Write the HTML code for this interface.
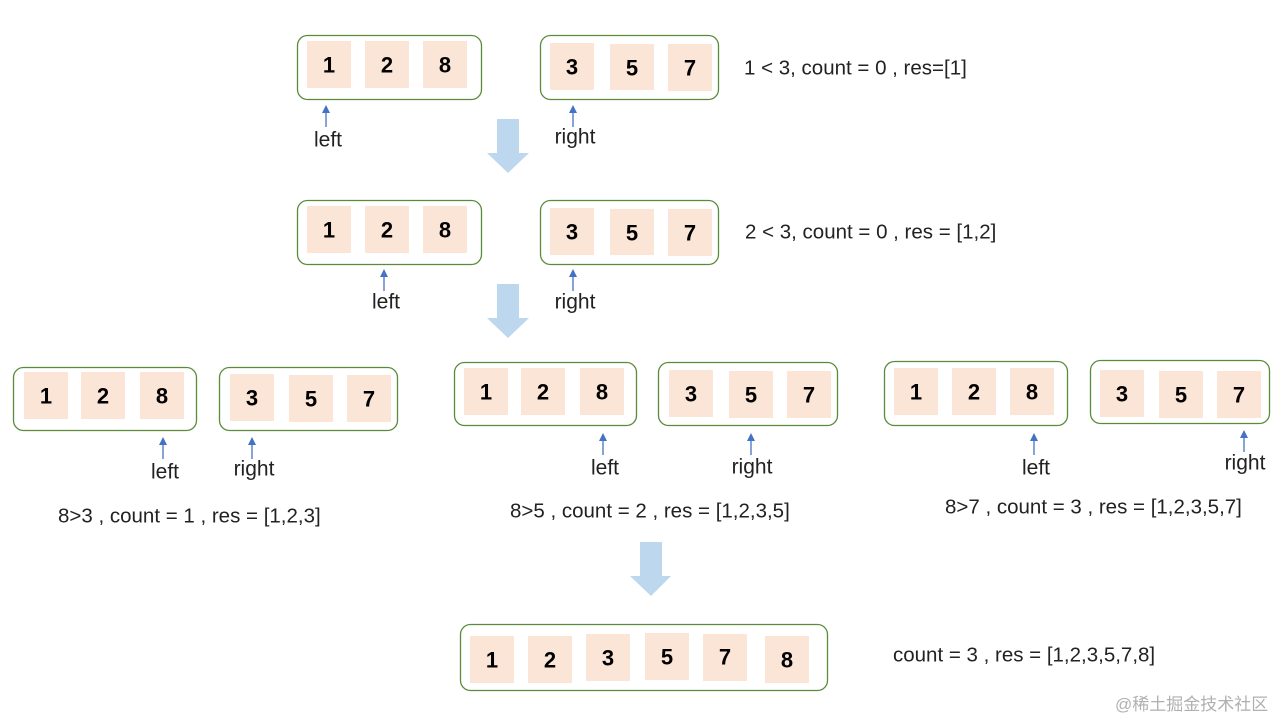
<!DOCTYPE html>
<html><head><meta charset="utf-8"><style>
html,body{margin:0;padding:0;background:#fff;width:1280px;height:720px;overflow:hidden}
svg text{font-family:"Liberation Sans",sans-serif}
.b{fill:#fff;stroke:#5a8a3a;stroke-width:1.3}
.c{fill:#fbe5d6}
.n{font-size:22px;font-weight:bold;fill:#000;text-anchor:middle;dominant-baseline:central}
.l{font-size:21px;fill:#222;text-anchor:middle;dominant-baseline:central}
.t{font-size:20.5px;fill:#222;dominant-baseline:central}
.a{stroke:#4472c4;stroke-width:1.3}
.ah{fill:#4472c4}
.big{fill:#bdd7ee}
</style></head><body>
<svg width="1280" height="720" viewBox="0 0 1280 720" xmlns="http://www.w3.org/2000/svg">
<!-- Row 1 -->
<rect class="b" x="297.5" y="35.5" width="184" height="64" rx="10"/>
<rect class="c" x="307" y="41" width="44" height="47"/><text class="n" x="329" y="65">1</text>
<rect class="c" x="365" y="41" width="44" height="47"/><text class="n" x="387" y="65">2</text>
<rect class="c" x="423" y="41" width="44" height="47"/><text class="n" x="445" y="65">8</text>
<rect class="b" x="540.5" y="35.5" width="178" height="64" rx="10"/>
<rect class="c" x="550" y="43" width="44" height="47"/><text class="n" x="572" y="67">3</text>
<rect class="c" x="610" y="44" width="44" height="46"/><text class="n" x="632" y="68">5</text>
<rect class="c" x="668" y="44" width="44" height="47"/><text class="n" x="690" y="68">7</text>
<text class="t" x="744" y="68">1 &lt; 3, count = 0 , res=[1]</text>
<line class="a" x1="326" y1="112" x2="326" y2="127"/><polygon class="ah" points="322,113 330,113 326,105"/>
<text class="l" x="328" y="140">left</text>
<line class="a" x1="573" y1="112" x2="573" y2="127"/><polygon class="ah" points="569,113 577,113 573,105"/>
<text class="l" x="575" y="137">right</text>
<polygon class="big" points="497,119 519,119 519,153 529,153 508,173 487,153 497,153"/>
<!-- Row 2 -->
<rect class="b" x="297.5" y="200.5" width="184" height="64" rx="10"/>
<rect class="c" x="307" y="206" width="44" height="47"/><text class="n" x="329" y="230">1</text>
<rect class="c" x="365" y="206" width="44" height="47"/><text class="n" x="387" y="230">2</text>
<rect class="c" x="423" y="206" width="44" height="47"/><text class="n" x="445" y="230">8</text>
<rect class="b" x="540.5" y="200.5" width="178" height="64" rx="10"/>
<rect class="c" x="550" y="208" width="44" height="47"/><text class="n" x="572" y="232">3</text>
<rect class="c" x="610" y="209" width="44" height="46"/><text class="n" x="632" y="233">5</text>
<rect class="c" x="668" y="209" width="44" height="47"/><text class="n" x="690" y="233">7</text>
<text class="t" x="745" y="232">2 &lt; 3, count = 0 , res = [1,2]</text>
<line class="a" x1="384" y1="276" x2="384" y2="291"/><polygon class="ah" points="380,277 388,277 384,269"/>
<text class="l" x="386" y="302">left</text>
<line class="a" x1="573" y1="276" x2="573" y2="291"/><polygon class="ah" points="569,277 577,277 573,269"/>
<text class="l" x="575" y="302">right</text>
<polygon class="big" points="497,284 519,284 519,318 529,318 508,338 487,318 497,318"/>
<!-- Row 3 group 1 -->
<rect class="b" x="13.5" y="367.5" width="183" height="63" rx="10"/>
<rect class="c" x="24" y="372" width="44" height="47"/><text class="n" x="46" y="396">1</text>
<rect class="c" x="81" y="372" width="44" height="47"/><text class="n" x="103" y="396">2</text>
<rect class="c" x="140" y="372" width="44" height="47"/><text class="n" x="162" y="396">8</text>
<rect class="b" x="219.5" y="367.5" width="178" height="63" rx="10"/>
<rect class="c" x="230" y="374" width="44" height="47"/><text class="n" x="252" y="398">3</text>
<rect class="c" x="289" y="375" width="44" height="47"/><text class="n" x="311" y="399">5</text>
<rect class="c" x="347" y="375" width="44" height="47"/><text class="n" x="369" y="399">7</text>
<line class="a" x1="163" y1="444" x2="163" y2="459"/><polygon class="ah" points="159,445 167,445 163,437"/>
<text class="l" x="165" y="472">left</text>
<line class="a" x1="252" y1="444" x2="252" y2="459"/><polygon class="ah" points="248,445 256,445 252,437"/>
<text class="l" x="254" y="469">right</text>
<text class="t" x="58" y="516">8&gt;3 , count = 1 , res = [1,2,3]</text>
<!-- group 2 -->
<rect class="b" x="454.5" y="362.5" width="182" height="63" rx="10"/>
<rect class="c" x="464" y="368" width="44" height="47"/><text class="n" x="486" y="392">1</text>
<rect class="c" x="521" y="368" width="44" height="47"/><text class="n" x="543" y="392">2</text>
<rect class="c" x="580" y="368" width="44" height="47"/><text class="n" x="602" y="392">8</text>
<rect class="b" x="658.5" y="362.5" width="179" height="63" rx="10"/>
<rect class="c" x="669" y="370" width="44" height="47"/><text class="n" x="691" y="394">3</text>
<rect class="c" x="729" y="371" width="44" height="47"/><text class="n" x="751" y="395">5</text>
<rect class="c" x="787" y="371" width="44" height="47"/><text class="n" x="809" y="395">7</text>
<line class="a" x1="603" y1="440" x2="603" y2="455"/><polygon class="ah" points="599,441 607,441 603,433"/>
<text class="l" x="605" y="468">left</text>
<line class="a" x1="751" y1="440" x2="751" y2="455"/><polygon class="ah" points="747,441 755,441 751,433"/>
<text class="l" x="752" y="467">right</text>
<text class="t" x="510" y="511">8&gt;5 , count = 2 , res = [1,2,3,5]</text>
<!-- group 3 -->
<rect class="b" x="884.5" y="361.5" width="183" height="64" rx="10"/>
<rect class="c" x="894" y="368" width="44" height="47"/><text class="n" x="916" y="392">1</text>
<rect class="c" x="952" y="368" width="44" height="47"/><text class="n" x="974" y="392">2</text>
<rect class="c" x="1010" y="368" width="44" height="47"/><text class="n" x="1032" y="392">8</text>
<rect class="b" x="1090.5" y="360.5" width="179" height="63" rx="10"/>
<rect class="c" x="1100" y="370" width="44" height="47"/><text class="n" x="1122" y="394">3</text>
<rect class="c" x="1159" y="371" width="44" height="47"/><text class="n" x="1181" y="395">5</text>
<rect class="c" x="1217" y="371" width="44" height="47"/><text class="n" x="1239" y="395">7</text>
<line class="a" x1="1034" y1="440" x2="1034" y2="455"/><polygon class="ah" points="1030,441 1038,441 1034,433"/>
<text class="l" x="1036" y="468">left</text>
<line class="a" x1="1244" y1="437" x2="1244" y2="452"/><polygon class="ah" points="1240,438 1248,438 1244,430"/>
<text class="l" x="1245" y="463">right</text>
<text class="t" x="945" y="507">8&gt;7 , count = 3 , res = [1,2,3,5,7]</text>
<polygon class="big" points="640,542 662,542 662,576 671,576 651,596 630,576 640,576"/>
<!-- final -->
<rect class="b" x="460.5" y="624.5" width="367" height="66" rx="10"/>
<rect class="c" x="470" y="636" width="44" height="47"/><text class="n" x="492" y="660">1</text>
<rect class="c" x="528" y="636" width="44" height="47"/><text class="n" x="550" y="660">2</text>
<rect class="c" x="586" y="634" width="44" height="47"/><text class="n" x="608" y="658">3</text>
<rect class="c" x="645" y="633" width="44" height="47"/><text class="n" x="667" y="657">5</text>
<rect class="c" x="703" y="634" width="44" height="47"/><text class="n" x="725" y="657">7</text>
<rect class="c" x="765" y="636" width="44" height="47"/><text class="n" x="787" y="660">8</text>
<text class="t" x="893" y="655">count = 3 , res = [1,2,3,5,7,8]</text>
<text x="1115" y="710" style="font-size:17px;fill:#b0b0b0;font-family:'Liberation Sans','Noto Sans CJK SC',sans-serif">@稀土掘金技术社区</text>
</svg>
</body></html>
